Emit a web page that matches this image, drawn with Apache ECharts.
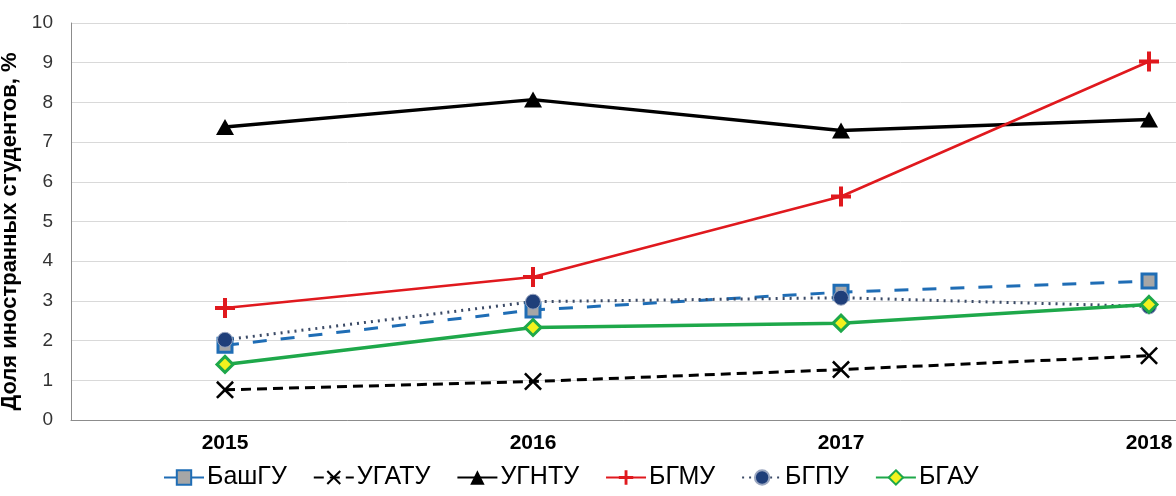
<!DOCTYPE html>
<html><head><meta charset="utf-8">
<script src="https://cdn.jsdelivr.net/npm/echarts@6/dist/echarts.min.js"></script>
<style>html,body{margin:0;padding:0;background:#fff}#c{width:1176px;height:496px}</style>
</head><body><div id="c"></div>
<script>
const years = ['2015','2016','2017','2018'];
const yTicks = [0,1,2,3,4,5,6,7,8,9,10];
const bashGU = [1.88, 2.77, 3.22, 3.5];
const ugatu = [0.76, 0.97, 1.27, 1.62];
const ugntu = [7.38, 8.07, 7.29, 7.57];
const bgmu = [2.82, 3.6, 5.63, 9.03];
const bgpu = [2.02, 2.98, 3.08, 2.86];
const bgau = [1.4, 2.33, 2.44, 2.91];
const seriesNames = ['БашГУ','УГАТУ','УГНТУ','БГМУ','БГПУ','БГАУ'];

const plusPath = 'path://M4,0 H6 V4 H10 V6 H6 V10 H4 V6 H0 V4 H4 Z';
const xPath = 'path://M0,1 L1,0 L5,4 L9,0 L10,1 L6,5 L10,9 L9,10 L5,6 L1,10 L0,9 L4,5 Z';
const font = '"Liberation Sans", Arial, sans-serif';

const chart = echarts.init(document.getElementById('c'), null, {renderer:'canvas'});
chart.setOption({
  animation:false,
  backgroundColor:'#fff',
  textStyle:{fontFamily:font},
  grid:{left:71, top:23, height:397, width:1232, containLabel:false, outerBoundsMode:'none'},
  xAxis:{
    type:'category', data:years, boundaryGap:true,
    axisLine:{lineStyle:{color:'#8c8c8c', width:1}},
    axisTick:{show:false},
    axisLabel:{color:'#000', fontSize:21, fontWeight:'bold', margin:13, fontFamily:font}
  },
  yAxis:{
    type:'value', min:yTicks[0], max:yTicks[yTicks.length-1], interval:1,
    name:'Доля иностранных студентов, %', nameLocation:'middle', nameGap:46,
    nameTextStyle:{fontSize:22, fontWeight:'bold', color:'#000', fontFamily:font, padding:[0,20,0,0]},
    axisLine:{show:true, lineStyle:{color:'#8c8c8c', width:1}},
    axisTick:{show:false},
    axisLabel:{color:'#333', fontSize:19, margin:18, fontFamily:font},
    splitLine:{lineStyle:{color:'#d9d9d9', width:1}}
  },
  legend:{
    top:465, left:163, padding:0, itemWidth:40, itemHeight:18, itemGap:26,
    textStyle:{fontSize:25, color:'#000', fontFamily:font, padding:[0,0,0,-2]},
    data:seriesNames
  },
  series:[
    {name:seriesNames[0], type:'line', data:bashGU, symbol:'rect', symbolSize:14,
     lineStyle:{color:'#1f6db5', width:3, type:[14,14]},
     itemStyle:{color:'#a6a6a6', borderColor:'#1f6db5', borderWidth:3}},
    {name:seriesNames[1], type:'line', data:ugatu, symbol:xPath, symbolSize:18,
     lineStyle:{color:'#000', width:3, type:[10,6]},
     itemStyle:{color:'#000'}},
    {name:seriesNames[2], type:'line', data:ugntu, symbol:'triangle', symbolSize:[18,16],
     lineStyle:{color:'#000', width:3.5},
     itemStyle:{color:'#000'}},
    {name:seriesNames[3], type:'line', data:bgmu, symbol:plusPath, symbolSize:20,
     lineStyle:{color:'#e0191e', width:2.5},
     itemStyle:{color:'#e0191e'}},
    {name:seriesNames[4], type:'line', data:bgpu, symbol:'circle', symbolSize:15,
     lineStyle:{color:'#3b4a66', width:3, type:[2,5]},
     itemStyle:{color:'#1f3f7a', borderColor:'#9aa6c0', borderWidth:1}},
    {name:seriesNames[5], type:'line', data:bgau, symbol:'diamond', symbolSize:16,
     lineStyle:{color:'#1ea84a', width:3.5},
     itemStyle:{color:'#f2f21e', borderColor:'#1ea84a', borderWidth:3}}
  ]
});
</script></body></html>
